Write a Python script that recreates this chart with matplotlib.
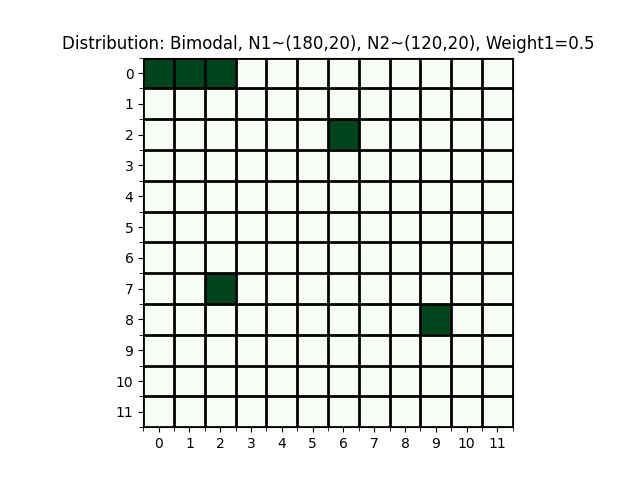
import numpy as np
import matplotlib
matplotlib.use("Agg")
import matplotlib.pyplot as plt

# cells that are "on" in the 12x12 grid (row, col)
n_rows = 12
n_cols = 12
on_rows = [0, 0, 0, 2, 7, 8]
on_cols = [0, 1, 2, 6, 2, 9]

grid = np.zeros((n_rows, n_cols))
grid[on_rows, on_cols] = 1

fig, ax = plt.subplots(figsize=(6.4, 4.8), dpi=100)
ax.imshow(grid, cmap="Greens", vmin=0, vmax=1)

ax.set_xticks(np.arange(n_cols))
ax.set_yticks(np.arange(n_rows))
ax.set_xticks(np.arange(-0.5, n_cols, 1), minor=True)
ax.set_yticks(np.arange(-0.5, n_rows, 1), minor=True)
ax.grid(which="minor", color="black", linewidth=2)
ax.tick_params(which="minor", length=3)

ax.set_title("Distribution: Bimodal, N1~(180,20), N2~(120,20), Weight1=0.5")

fig.savefig("out.png")
